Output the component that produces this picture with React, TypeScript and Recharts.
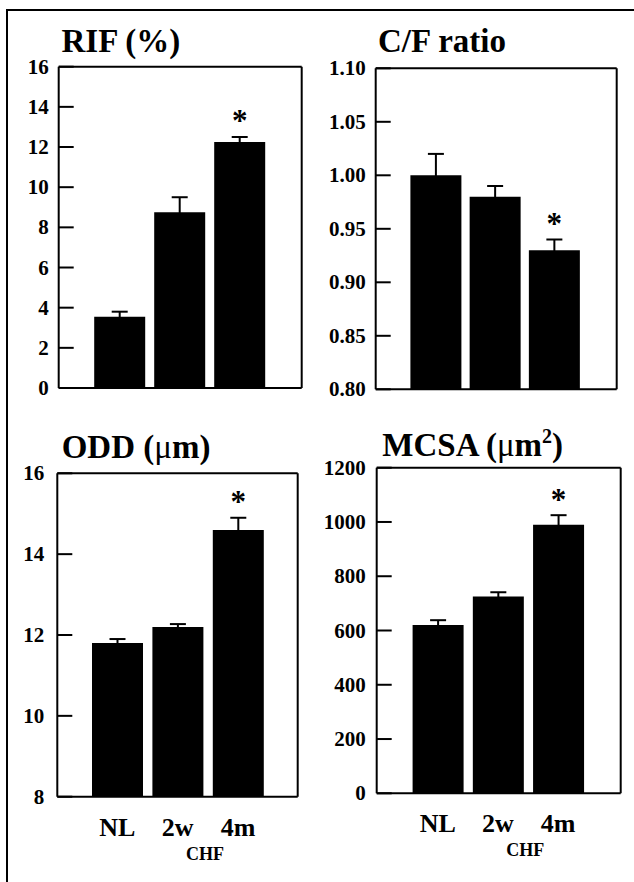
import React from 'react';
import { BarChart, Bar, XAxis, YAxis, ErrorBar, LabelList, Customized, ReferenceLine } from 'recharts';

const groups = ['NL', '2w', '4m'];
const significant = [false, false, true];

const rifValues = [3.55, 8.75, 12.25];
const rifErrors = [0.25, 0.75, 0.25];
const rifTicks = [0, 2, 4, 6, 8, 10, 12, 14, 16];

const cfValues = [1.0, 0.98, 0.93];
const cfErrors = [0.02, 0.01, 0.01];
const cfTicks = [0.8, 0.85, 0.9, 0.95, 1.0, 1.05, 1.1];

const oddValues = [11.8, 12.2, 14.6];
const oddErrors = [0.1, 0.07, 0.3];
const oddTicks = [8, 10, 12, 14, 16];

const mcsaValues = [620, 725, 990];
const mcsaErrors = [18, 16, 35];
const mcsaTicks = [0, 200, 400, 600, 800, 1000, 1200];

const FONT = 'Liberation Serif';
const TXT: React.CSSProperties = { fontFamily: 'Liberation Serif', fontWeight: 700 };

type Row = { name: string; value: number; err: number; sig: boolean };

const buildRows = (values: number[], errors: number[]): Row[] =>
  groups.map((g, i) => ({ name: g, value: values[i], err: errors[i], sig: significant[i] }));

type PanelProps = {
  left: number;
  top: number;
  width: number;
  height: number;
  marginTop: number;
  marginRight: number;
  yAxisWidth: number;
  xAxisHeight: number;
  padLeft: number;
  padRight: number;
  tickGap: number;
  rows: Row[];
  ticks: number[];
  fmt: (v: number) => string;
  showX: boolean;
  title: React.ReactNode;
  titleX: number;
  titleY: number;
};

const makeYTick = (fmt: (v: number) => string, gap: number) => (props: any) => {
  const { x, y, payload } = props;
  return (
    <g>
      <line x1={x} x2={x + 15} y1={y} y2={y} stroke="#000" strokeWidth={2} />
      <text x={x - gap} y={y} dy="0.34em" textAnchor="end" fontFamily={FONT} style={TXT} fontSize={21} fill="#000">
        {fmt(payload.value)}
      </text>
    </g>
  );
};

const XTick = (props: any) => {
  const { x, y, payload, index } = props;
  return (
    <g>
      <text x={x} y={y + 39} textAnchor="middle" fontFamily={FONT} style={TXT} fontSize={26} fill="#000">
        {payload.value}
      </text>
      {index === 2 ? (
        <text x={x - 33} y={y + 63} textAnchor="middle" fontFamily={FONT} style={TXT} fontSize={18} fill="#000">
          CHF
        </text>
      ) : null}
    </g>
  );
};

const makeStar = (rows: Row[], min: number) => (props: any) => {
  const { index } = props;
  const row = rows[index];
  if (!row || !row.sig) return null;
  const vb = props.viewBox ?? props;
  const x = Number(vb.x);
  const y = Number(vb.y);
  const w = Number(vb.width);
  const h = Number(vb.height);
  const k = h / (row.value - min);
  const errTop = y - row.err * k;
  return (
    <text x={x + w / 2} y={errTop - 5.5} textAnchor="middle" fontFamily={FONT} style={TXT} fontSize={31} fill="#000">
      *
    </text>
  );
};

function Panel(p: PanelProps) {
  const min = p.ticks[0];
  const max = p.ticks[p.ticks.length - 1];
  const axisLine = { stroke: '#000', strokeWidth: 2 };
  return (
    <div style={{ position: 'absolute', left: p.left, top: p.top, width: p.width, height: p.height }}>
      <BarChart
        width={p.width}
        height={p.height}
        data={p.rows}
        margin={{ top: p.marginTop, right: p.marginRight - 1, left: 0, bottom: 0 }}
      >
        <XAxis
          dataKey="name"
          height={p.xAxisHeight}
          padding={{ left: p.padLeft, right: p.padRight }}
          axisLine={axisLine}
          tickLine={false}
          tickSize={0}
          tickMargin={0}
          interval={0}
          tick={p.showX ? XTick : false}
        />
        <YAxis
          type="number"
          domain={[min, max]}
          ticks={p.ticks}
          width={p.yAxisWidth}
          axisLine={axisLine}
          tickLine={false}
          tickSize={0}
          tickMargin={0}
          interval={0}
          tick={makeYTick(p.fmt, p.tickGap)}
        />
        <YAxis
          yAxisId="right"
          orientation="right"
          type="number"
          domain={[min, max]}
          ticks={p.ticks}
          width={1}
          axisLine={axisLine}
          tickLine={false}
          tick={false}
        />
        <ReferenceLine y={max} stroke="#000" strokeWidth={2} />
        <Bar dataKey="value" fill="#000" barSize={51} isAnimationActive={false}>
          <ErrorBar dataKey="err" width={8} strokeWidth={2} stroke="#000" direction="y" />
          <LabelList dataKey="value" content={makeStar(p.rows, min)} />
        </Bar>
        <Customized
          component={() => (
            <text x={p.titleX} y={p.titleY} fontFamily={FONT} style={TXT} fontSize={33} fill="#000">
              {p.title}
            </text>
          )}
        />
      </BarChart>
    </div>
  );
}

const intFmt = (v: number) => String(Math.round(v));
const fix2 = (v: number) => v.toFixed(2);

export default function App() {
  return (
    <div
      style={{
        position: 'absolute',
        left: 0,
        top: 0,
        width: 634,
        height: 882,
        background: '#fff',
        overflow: 'hidden',
        fontFamily: 'Liberation Serif',
      }}
    >
      <div
        style={{
          position: 'absolute',
          left: 6,
          top: 9,
          width: 640,
          height: 900,
          borderLeft: '2px solid #000',
          borderTop: '2px solid #000',
        }}
      />
      <Panel
        left={0}
        top={0}
        width={317}
        height={420}
        marginTop={66.7}
        marginRight={15.3}
        yAxisWidth={58.7}
        xAxisHeight={32}
        padLeft={30.5}
        padRight={32.5}
        tickGap={10}
        rows={buildRows(rifValues, rifErrors)}
        ticks={rifTicks}
        fmt={intFmt}
        showX={false}
        title="RIF (%)"
        titleX={61.5}
        titleY={51.7}
      />
      <Panel
        left={317}
        top={0}
        width={317}
        height={420}
        marginTop={68.3}
        marginRight={17.3}
        yAxisWidth={58.7}
        xAxisHeight={30.7}
        padLeft={30.7}
        padRight={32.6}
        tickGap={10}
        rows={buildRows(cfValues, cfErrors)}
        ticks={cfTicks}
        fmt={fix2}
        showX={false}
        title="C/F ratio"
        titleX={61}
        titleY={51.7}
      />
      <Panel
        left={0}
        top={420}
        width={317}
        height={462}
        marginTop={53.3}
        marginRight={19.3}
        yAxisWidth={57.3}
        xAxisHeight={85.3}
        padLeft={29.7}
        padRight={29.5}
        tickGap={13}
        rows={buildRows(oddValues, oddErrors)}
        ticks={oddTicks}
        fmt={intFmt}
        showX={true}
        title={
          <>
            ODD (<tspan style={{ fontWeight: 400 }}>μ</tspan>m)
          </>
        }
        titleX={61.7}
        titleY={38.3}
      />
      <Panel
        left={317}
        top={420}
        width={317}
        height={462}
        marginTop={47.7}
        marginRight={13.3}
        yAxisWidth={59.7}
        xAxisHeight={88.7}
        padLeft={30.9}
        padRight={32.4}
        tickGap={11}
        rows={buildRows(mcsaValues, mcsaErrors)}
        ticks={mcsaTicks}
        fmt={intFmt}
        showX={true}
        title={
          <>
            MCSA (<tspan style={{ fontWeight: 400 }}>μ</tspan>m
            <tspan dy={-13} fontSize={20}>2</tspan>
            <tspan dy={13}>)</tspan>
          </>
        }
        titleX={65.3}
        titleY={36}
      />
    </div>
  );
}
